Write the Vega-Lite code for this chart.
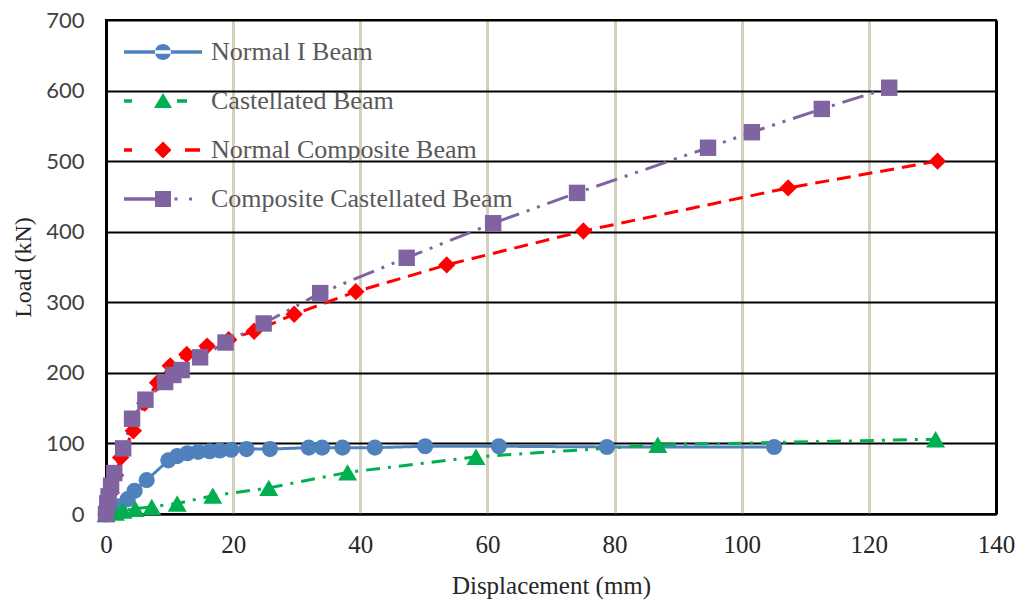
{
  "$schema": "https://vega.github.io/schema/vega-lite/v6.json",
  "width": 890,
  "height": 494,
  "autosize": {"type": "none"},
  "padding": {"left": 106, "top": 20, "right": 23, "bottom": 89},
  "background": "white",
  "config": {
    "view": {"stroke": "#000000", "strokeWidth": 2},
    "axis": {"ticks": false, "domainColor": "#000000", "domainWidth": 2, "titleFontWeight": "normal"}
  },
  "data": {
    "values": [
      {"s": "Normal I Beam", "d": 0, "p": 0},
      {"s": "Normal I Beam", "d": 1, "p": 5},
      {"s": "Normal I Beam", "d": 2, "p": 11},
      {"s": "Normal I Beam", "d": 3.4, "p": 21},
      {"s": "Normal I Beam", "d": 4.5, "p": 33},
      {"s": "Normal I Beam", "d": 6.4, "p": 48},
      {"s": "Normal I Beam", "d": 9.8, "p": 76},
      {"s": "Normal I Beam", "d": 11.2, "p": 82},
      {"s": "Normal I Beam", "d": 12.8, "p": 86},
      {"s": "Normal I Beam", "d": 14.5, "p": 88},
      {"s": "Normal I Beam", "d": 16.3, "p": 89},
      {"s": "Normal I Beam", "d": 17.9, "p": 90},
      {"s": "Normal I Beam", "d": 19.7, "p": 91},
      {"s": "Normal I Beam", "d": 22.1, "p": 92},
      {"s": "Normal I Beam", "d": 25.8, "p": 92},
      {"s": "Normal I Beam", "d": 31.9, "p": 94},
      {"s": "Normal I Beam", "d": 34, "p": 94},
      {"s": "Normal I Beam", "d": 37.2, "p": 94},
      {"s": "Normal I Beam", "d": 42.3, "p": 94},
      {"s": "Normal I Beam", "d": 50.2, "p": 96},
      {"s": "Normal I Beam", "d": 61.8, "p": 96},
      {"s": "Normal I Beam", "d": 78.8, "p": 95},
      {"s": "Normal I Beam", "d": 105.1, "p": 95},
      {"s": "Castellated Beam", "d": 0, "p": 0},
      {"s": "Castellated Beam", "d": 1.5, "p": 2},
      {"s": "Castellated Beam", "d": 2.7, "p": 5},
      {"s": "Castellated Beam", "d": 4.6, "p": 7.5},
      {"s": "Castellated Beam", "d": 7.2, "p": 10},
      {"s": "Castellated Beam", "d": 11.2, "p": 15},
      {"s": "Castellated Beam", "d": 16.8, "p": 26},
      {"s": "Castellated Beam", "d": 25.6, "p": 37},
      {"s": "Castellated Beam", "d": 38, "p": 59},
      {"s": "Castellated Beam", "d": 58.2, "p": 81},
      {"s": "Castellated Beam", "d": 86.8, "p": 98},
      {"s": "Castellated Beam", "d": 130.5, "p": 106},
      {"s": "Normal Composite Beam", "d": 0, "p": 0},
      {"s": "Normal Composite Beam", "d": 0.8, "p": 30},
      {"s": "Normal Composite Beam", "d": 1.5, "p": 55},
      {"s": "Normal Composite Beam", "d": 2.3, "p": 80},
      {"s": "Normal Composite Beam", "d": 4.3, "p": 118},
      {"s": "Normal Composite Beam", "d": 6.1, "p": 157},
      {"s": "Normal Composite Beam", "d": 8.1, "p": 186},
      {"s": "Normal Composite Beam", "d": 10.1, "p": 210},
      {"s": "Normal Composite Beam", "d": 12.7, "p": 226},
      {"s": "Normal Composite Beam", "d": 15.9, "p": 238},
      {"s": "Normal Composite Beam", "d": 19.3, "p": 247},
      {"s": "Normal Composite Beam", "d": 23.3, "p": 259},
      {"s": "Normal Composite Beam", "d": 29.6, "p": 283},
      {"s": "Normal Composite Beam", "d": 39.3, "p": 315},
      {"s": "Normal Composite Beam", "d": 53.6, "p": 353},
      {"s": "Normal Composite Beam", "d": 75.1, "p": 401},
      {"s": "Normal Composite Beam", "d": 107.3, "p": 462},
      {"s": "Normal Composite Beam", "d": 130.8, "p": 500},
      {"s": "Composite Castellated Beam", "d": 0, "p": 0},
      {"s": "Composite Castellated Beam", "d": 0.2, "p": 15},
      {"s": "Composite Castellated Beam", "d": 0.4, "p": 25},
      {"s": "Composite Castellated Beam", "d": 0.8, "p": 40},
      {"s": "Composite Castellated Beam", "d": 1.3, "p": 58},
      {"s": "Composite Castellated Beam", "d": 2.7, "p": 93},
      {"s": "Composite Castellated Beam", "d": 4.1, "p": 135},
      {"s": "Composite Castellated Beam", "d": 6.2, "p": 162},
      {"s": "Composite Castellated Beam", "d": 9.3, "p": 187},
      {"s": "Composite Castellated Beam", "d": 10.6, "p": 197},
      {"s": "Composite Castellated Beam", "d": 11.9, "p": 204},
      {"s": "Composite Castellated Beam", "d": 14.8, "p": 222},
      {"s": "Composite Castellated Beam", "d": 18.8, "p": 243},
      {"s": "Composite Castellated Beam", "d": 24.8, "p": 270},
      {"s": "Composite Castellated Beam", "d": 33.7, "p": 313},
      {"s": "Composite Castellated Beam", "d": 47.3, "p": 363},
      {"s": "Composite Castellated Beam", "d": 60.9, "p": 412},
      {"s": "Composite Castellated Beam", "d": 74.1, "p": 455},
      {"s": "Composite Castellated Beam", "d": 94.7, "p": 519},
      {"s": "Composite Castellated Beam", "d": 101.6, "p": 541},
      {"s": "Composite Castellated Beam", "d": 112.6, "p": 574},
      {"s": "Composite Castellated Beam", "d": 123.2, "p": 604}
    ]
  },
  "encoding": {
    "x": {
      "field": "d", "type": "quantitative",
      "scale": {"domain": [0, 140], "nice": false, "zero": true},
      "axis": {
        "values": [0, 20, 40, 60, 80, 100, 120, 140],
        "title": "Displacement (mm)",
        "grid": true,
        "gridColor": {"condition": {"test": "datum.value == 0 || datum.value == 140", "value": "#000000"}, "value": "#D5D0BB"},
        "gridWidth": 3,
        "labelFlush": false,
        "labelFont": "Liberation Serif",
        "labelFontSize": 25,
        "labelColor": "#262626",
        "labelPadding": 18,
        "titleFont": "Liberation Serif",
        "titleFontSize": 25,
        "titleColor": "#262626",
        "titlePadding": 16
      }
    },
    "y": {
      "field": "p", "type": "quantitative",
      "scale": {"domain": [0, 700], "nice": false},
      "axis": {
        "values": [0, 100, 200, 300, 400, 500, 600, 700],
        "title": "Load (kN)",
        "grid": true,
        "gridColor": "#000000",
        "gridWidth": 2,
        "labelFont": "Lato",
        "labelFontSize": 22,
        "labelColor": "#404040",
        "labelPadding": 22,
        "titleFont": "Liberation Serif",
        "titleFontSize": 24,
        "titleColor": "#262626",
        "titlePadding": 10
      }
    }
  },
  "layer": [
    {
      "mark": {"type": "line", "strokeWidth": 3},
      "encoding": {
        "color": {
          "field": "s", "type": "nominal",
          "scale": {"domain": ["Normal I Beam", "Castellated Beam", "Normal Composite Beam", "Composite Castellated Beam"], "range": ["#4F81BD", "#00B050", "#FF0000", "#8064A2"]},
          "legend": null
        },
        "strokeDash": {
          "field": "s", "type": "nominal",
          "scale": {"domain": ["Normal I Beam", "Castellated Beam", "Normal Composite Beam", "Composite Castellated Beam"], "range": [[1, 0], [14, 8, 3, 8], [14, 8], [22, 8, 3, 8, 3, 8]]},
          "legend": null
        }
      }
    },
    {
      "mark": {"type": "point", "filled": true, "opacity": 1},
      "encoding": {
        "color": {
          "field": "s", "type": "nominal",
          "scale": {"domain": ["Normal I Beam", "Castellated Beam", "Normal Composite Beam", "Composite Castellated Beam"], "range": ["#4F81BD", "#00B050", "#FF0000", "#8064A2"]},
          "legend": null
        },
        "shape": {
          "field": "s", "type": "nominal",
          "scale": {"domain": ["Normal I Beam", "Castellated Beam", "Normal Composite Beam", "Composite Castellated Beam"], "range": ["circle", "triangle-up", "diamond", "square"]},
          "legend": null
        },
        "size": {
          "field": "s", "type": "nominal",
          "scale": {"type": "ordinal", "domain": ["Normal I Beam", "Castellated Beam", "Normal Composite Beam", "Composite Castellated Beam"], "range": [260, 360, 300, 270]},
          "legend": null
        }
      }
    },
    {
      "transform": [{"filter": "datum.p < 0"}],
      "mark": {"type": "point", "filled": true, "opacity": 1},
      "encoding": {
        "color": {
          "field": "s", "type": "nominal",
          "scale": {"domain": ["Normal I Beam", "Castellated Beam", "Normal Composite Beam", "Composite Castellated Beam"], "range": ["#4F81BD", "#00B050", "#FF0000", "#8064A2"]},
          "legend": {"orient": "none", "legendX": 44, "legendY": 19, "title": null, "padding": 0, "labelFont": "Liberation Serif", "labelFontSize": 26, "labelColor": "#595959", "labelLimit": 0, "symbolSize": 400, "symbolStrokeWidth": 0, "labelOffset": 35, "rowPadding": 23, "symbolOpacity": 1}
        },
        "shape": {
          "field": "s", "type": "nominal",
          "scale": {"domain": ["Normal I Beam", "Castellated Beam", "Normal Composite Beam", "Composite Castellated Beam"], "range": [
            "M-3.9,-0.17H3.9V0.17H-3.9ZM-0.8,0A0.8,0.8,0,1,0,0.8,0A0.8,0.8,0,1,0,-0.8,0Z",
            "M-3.9,-0.17H-3.1V0.17H-3.9ZM0,-0.8L0.9,0.7L-0.9,0.7ZM1.4,-0.17H2.4V0.17H1.4Z",
            "M-3.9,-0.17H-3.1V0.17H-3.9ZM0,-0.85L0.85,0L0,0.85L-0.85,0ZM2.2,-0.17H3.7V0.17H2.2Z",
            "M-3.9,-0.17H-0.8V0.17H-3.9ZM-0.8,-0.8H0.8V0.8H-0.8ZM1.15,-0.15H1.45V0.15H1.15ZM2.6,-0.15H2.9V0.15H2.6Z"
          ]},
          "legend": {"orient": "none", "legendX": 44, "legendY": 19, "title": null, "padding": 0, "labelFont": "Liberation Serif", "labelFontSize": 26, "labelColor": "#595959", "labelLimit": 0, "symbolSize": 400, "symbolStrokeWidth": 0, "labelOffset": 35, "rowPadding": 23, "symbolOpacity": 1}
        }
      }
    }
  ],
  "resolve": {"scale": {"color": "independent", "shape": "independent", "size": "independent", "strokeDash": "independent"}}
}
